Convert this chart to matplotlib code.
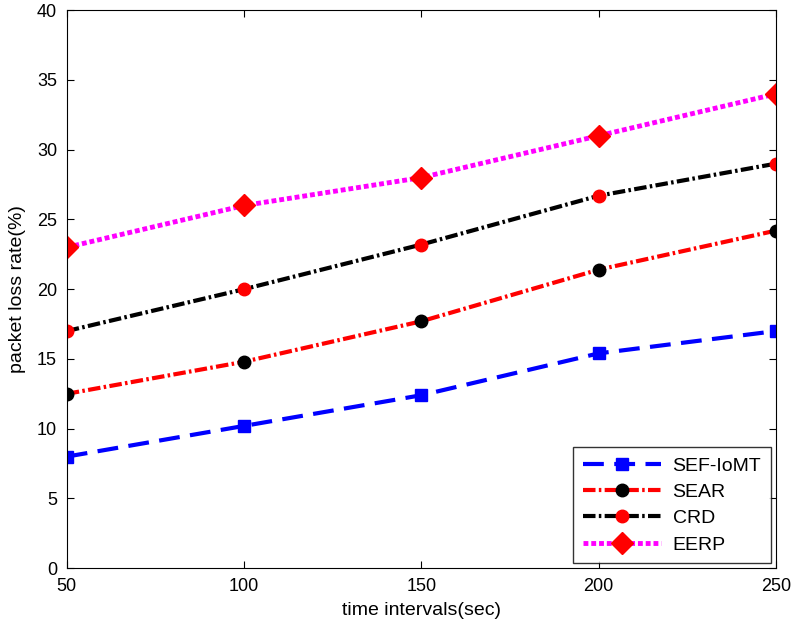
import matplotlib
matplotlib.use('Agg')
import matplotlib.pyplot as plt

plt.rcParams['font.family'] = ['Liberation Sans', 'DejaVu Sans']

# data
x = [50, 100, 150, 200, 250]
sef_iomt = [8, 10.2, 12.4, 15.4, 17]
sear = [12.5, 14.8, 17.7, 21.4, 24.2]
crd = [17, 20, 23.2, 26.7, 29]
eerp = [23, 26, 28, 31, 34]

fig = plt.figure(figsize=(7.95, 6.37), dpi=100)
ax = fig.add_axes([0.084, 0.108, 0.892, 0.876])

ax.plot(x, sef_iomt, color='blue', ls=(0, (5, 2.5)), lw=3, marker='s', ms=8,
        mfc='blue', mec='blue', label='SEF-IoMT')
ax.plot(x, sear, color='red', ls=(0, (3, 0.8, 0.6, 0.8)), lw=3, marker='o', ms=9,
        mfc='black', mec='black', label='SEAR')
ax.plot(x, crd, color='black', ls=(0, (3, 0.8, 0.6, 0.8)), lw=3, marker='o', ms=9,
        mfc='red', mec='red', label='CRD')
ax.plot(x, eerp, color='magenta', ls=(0, (1, 0.6)), lw=3.5, marker='D', ms=11,
        mfc='red', mec='red', label='EERP')

ax.set_xlim(50, 250)
ax.set_ylim(0, 40)
ax.set_xticks([50, 100, 150, 200, 250])
ax.set_yticks(range(0, 41, 5))
ax.tick_params(direction='in', top=True, right=True, labelsize=13, length=5, pad=7)
ax.set_xlabel('time intervals(sec)', fontsize=14, labelpad=5)
ax.set_ylabel('packet loss rate(%)', fontsize=14, labelpad=8)

leg = ax.legend(loc='lower right', fontsize=14, fancybox=False, edgecolor='black',
                handlelength=4.0, borderaxespad=0.25, labelspacing=0.45,
                borderpad=0.5, handletextpad=0.6)
leg.get_frame().set_linewidth(1)

fig.savefig('out.png', dpi=100)
